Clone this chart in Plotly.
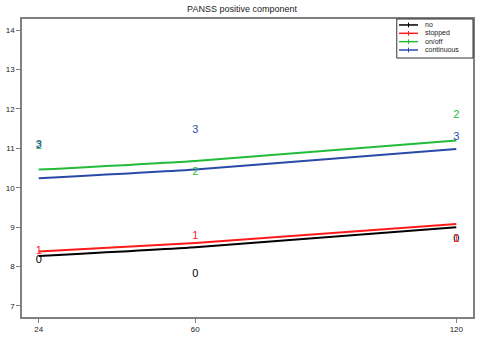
import plotly.graph_objects as go

months = [24, 60, 120]
groups = ["no", "stopped", "on/off", "continuous"]
group_labels = ["0", "1", "2", "3"]
colors = ["#000000", "#ff1a1a", "#22bb3a", "#2a4aa8"]

# fitted lines
fit_no = [8.27, 8.49, 9.00]
fit_stopped = [8.38, 8.60, 9.08]
fit_onoff = [10.46, 10.68, 11.20]
fit_cont = [10.24, 10.46, 10.98]

# observed means (text labels)
obs_no = [8.16, 7.81, 8.70]
obs_stopped = [8.40, 8.78, 8.70]
obs_onoff = [11.06, 10.40, 11.85]
obs_cont = [11.07, 11.46, 11.28]

fits = [fit_no, fit_stopped, fit_onoff, fit_cont]
obs = [obs_no, obs_stopped, obs_onoff, obs_cont]

FONT = "Liberation Sans, Arial, sans-serif"
fig = go.Figure()

for name, col, f in zip(groups, colors, fits):
    fig.add_trace(go.Scatter(
        x=months, y=f, mode="lines", name=name, showlegend=False,
        line=dict(color=col, width=2, shape="spline", smoothing=0.6),
    ))

for lab, col, o in zip(group_labels, colors, obs):
    fig.add_trace(go.Scatter(
        x=months, y=o, mode="text", text=[lab] * len(months),
        textfont=dict(color=col, size=11, family=FONT),
        showlegend=False, hoverinfo="skip", cliponaxis=False,
    ))

# custom compact legend (paper coordinates)
L_X0, L_X1, L_Y0, L_Y1 = 0.831, 1.0, 0.869, 1.0
fig.add_shape(type="rect", xref="paper", yref="paper",
              x0=L_X0, x1=L_X1, y0=L_Y0, y1=L_Y1,
              line=dict(color="#333333", width=1), fillcolor="white", layer="above")
row_y = [0.980, 0.952, 0.924, 0.896]
for name, col, ry in zip(groups, colors, row_y):
    fig.add_shape(type="line", xref="paper", yref="paper",
                  x0=0.836, x1=0.878, y0=ry, y1=ry,
                  line=dict(color=col, width=1.5), layer="above")
    fig.add_shape(type="line", xref="paper", yref="paper",
                  x0=0.857, x1=0.857, y0=ry - 0.008, y1=ry + 0.008,
                  line=dict(color=col, width=1), layer="above")
    fig.add_annotation(xref="paper", yref="paper", x=0.889, y=ry,
                       text=name, showarrow=False, xanchor="left", yanchor="middle",
                       font=dict(size=7, family=FONT, color="#222222"))

axis_common = dict(
    showline=True, linecolor="#808080", linewidth=1.5, mirror=True,
    ticks="outside", ticklen=4, tickcolor="#808080", tickwidth=1,
    showgrid=False, zeroline=False, automargin=False,
    tickfont=dict(size=8, family=FONT, color="#222222"),
)

fig.update_layout(
    width=484, height=340,
    margin=dict(l=22, r=11, t=19, b=23, autoexpand=False),
    paper_bgcolor="white", plot_bgcolor="white",
    title=dict(text="PANSS positive component", x=0.5, xanchor="center",
               y=0.975, yanchor="middle",
               font=dict(size=9, family=FONT, color="#222222")),
    xaxis=dict(range=[20.16, 123.84], tickvals=months, **axis_common),
    yaxis=dict(range=[6.72, 14.28], tickvals=list(range(7, 15)), **axis_common),
    showlegend=False,
)

fig.write_html("out.html")
